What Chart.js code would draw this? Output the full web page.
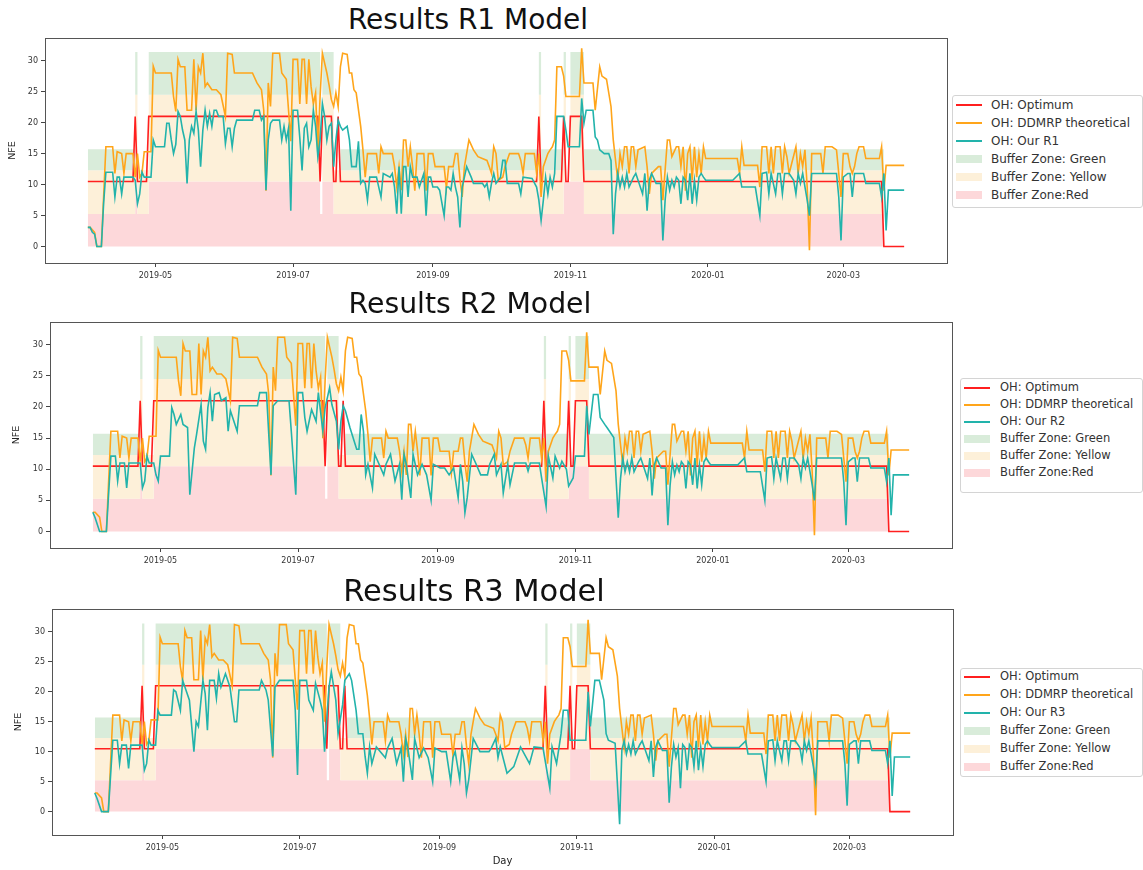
<!DOCTYPE html>
<html>
<head>
<meta charset="utf-8">
<script src="https://cdn.jsdelivr.net/npm/chart.js@4.4.1/dist/chart.umd.min.js"></script>
<style>
  body { margin: 0; background: #fff; width: 1143px; height: 870px; position: relative; overflow: hidden; font-family: "DejaVu Sans", sans-serif; }
  canvas { position: absolute; left: 0; }
  .title { position: absolute; white-space: nowrap; color: #111; transform: translateX(-50%); line-height: 1; }
  .legend { position: absolute; border: 1px solid #d4d4d4; border-radius: 3px; background: #fff; box-sizing: border-box; color: #333; }
  .sw { position: absolute; left: 3px; width: 26px; }
  .lbl { position: absolute; white-space: nowrap; line-height: 1; }
</style>
</head>
<body>
<script>
// days counted from 2019-04-01
const tickDays = [30, 91, 153, 214, 275, 335];
const tickLabels = ["2019-05", "2019-07", "2019-09", "2019-11", "2020-01", "2020-03"];
const yTicks = [0, 5, 10, 15, 20, 25, 30];

// buffer zones (value holds until the next day listed)
const zoneDays      = [0, 21, 22, 27, 103, 104, 109, 112, 200, 201, 211, 212, 214, 220, 353];
const zoneRedTop    = [5.25, 10.5, 5.25, 10.5, 5.25, 10.5, 5.25, 5.25, 10.5, 5.25, 10.5, 10.5, 10.5, 5.25, 5.25];
const zoneYellowTop = [12.3, 24.5, 12.3, 24.5, 5.25, 24.5, 12.3, 12.3, 24.5, 12.3, 24.5, 10.5, 24.5, 12.3, 12.3];
const zoneGreenTop  = [15.7, 31.4, 12.3, 31.4, 5.25, 31.4, 12.3, 15.7, 31.4, 15.7, 31.4, 10.5, 31.4, 15.7, 15.7];

const optimum = [[0,10.5],[20,10.5],[21,21],[22,10.5],[26,10.5],[27,21],[102,21],[103,10.5],[104,21],[108,21],[109,10.5],[110,10.5],[111,21],[112,10.5],[199,10.5],[200,21],[201,10.5],[210,10.5],[211,21],[212,10.5],[213,10.5],[214,21],[219,21],[220,10.5],[352,10.5],[353,0],[362,0]];

const ddmrp = [[0,3.1],[1,3.1],[3,2.3],[4,0],[6,0],[8,16.1],[11,16.1],[12,11.8],[13,15.3],[15,15],[16,11.8],[17,15],[20,15],[21,11.2],[22,15],[23,11.2],[24,11.8],[25,15.3],[28,15.3],[29,29.1],[30,28],[37,28],[38,24.2],[39,21.8],[40,30.2],[41,29],[43,29],[44,22],[46,22],[47,30.2],[48,22],[49,29],[50,28],[51,31.2],[52,25.8],[53,26.4],[55,25.3],[57,25.3],[59,24.5],[61,21],[62,31.2],[64,31],[65,28],[73,28],[75,26.4],[77,25.3],[78,22],[79,9],[80,26.4],[81,22.6],[82,31.2],[85,31.2],[86,28],[88,27],[90,17],[91,30.2],[93,30.2],[94,23],[95,30.2],[96,30.2],[97,23],[98,30.2],[99,25.8],[100,23],[101,24.8],[102,15],[103,24.2],[104,31.2],[106,28],[107,26],[108,23.7],[109,22.6],[110,24.8],[111,22.6],[112,29],[113,31.2],[115,31],[116,28],[117,28],[118,25.3],[119,24.8],[121,19.4],[122,15.6],[123,11.2],[124,15],[128,15],[129,11.8],[130,16.1],[131,15],[135,15],[136,12.9],[137,9.6],[138,12.9],[139,9.1],[140,17.2],[141,17.2],[142,12.9],[143,16.1],[144,12.9],[145,9],[146,15],[149,15],[150,9],[151,15],[153,15],[154,12.9],[158,12.9],[159,9.4],[160,12.9],[162,12.9],[163,15],[164,15],[165,11],[166,8],[167,12.9],[169,17.2],[171,15.6],[173,14.5],[177,13.9],[178,12.9],[179,11.8],[180,16.1],[181,15],[182,10.7],[184,11.2],[185,12.9],[187,15],[191,15],[192,13.9],[193,11.8],[194,15],[198,15],[199,11.8],[200,15],[201,8],[202,12.9],[204,15],[205,15.6],[206,16.1],[207,17.2],[208,29],[210,29],[211,27.5],[212,24.2],[218,24.2],[219,32],[220,26.4],[224,26.4],[225,22],[227,29],[228,27.5],[230,27],[232,22.6],[233,17.2],[235,10.7],[236,15],[237,12.9],[238,16.1],[239,16.1],[240,11.8],[241,16.1],[242,16.1],[243,12.9],[244,15.6],[247,16.1],[248,12.9],[249,8.5],[250,11.8],[253,12.9],[254,12.9],[255,7.5],[257,17.2],[258,17.2],[259,14.5],[261,16.1],[262,16.1],[263,12.9],[264,16.1],[265,9],[266,15],[267,16.1],[268,10.7],[269,16.1],[270,11.2],[271,15],[272,11.8],[273,16.1],[274,14.2],[288,14.2],[289,11.8],[290,16.1],[291,13.1],[297,13.1],[298,9.6],[299,16.1],[301,16.1],[302,11.8],[303,16.1],[304,11.8],[305,16.1],[307,16.1],[308,11.8],[309,16.1],[310,14.5],[311,11.8],[314,16.1],[315,11.8],[316,15],[317,12.9],[318,15.6],[319,9.6],[320,-0.6],[321,15],[325,15],[326,11.8],[327,16.1],[330,16.1],[332,15.6],[333,11.8],[334,8],[335,15],[337,15],[338,12.9],[339,11.8],[340,12.9],[341,15],[342,16.1],[344,16.1],[345,14.2],[351,14.2],[352,16.1],[353,9],[354,13.1],[362,13.1]];

const ourR1 = [[0,3.1],[1,3.1],[2,2.3],[3,2],[4,0],[6,0],[7,7],[8,12],[11,12],[12,8],[13,11.2],[14,11.2],[15,8.5],[16,11.2],[20,11.2],[21,10.7],[22,6.9],[23,8.5],[24,12],[25,11.2],[28,11.2],[29,17.2],[30,16.1],[34,16.1],[35,19.9],[36,19.9],[37,17.2],[38,15],[39,16.5],[40,21.8],[41,21],[42,18.8],[43,17.2],[44,10.2],[45,17.2],[46,19.4],[47,18.3],[48,21.8],[49,18.8],[50,12.9],[51,18.8],[52,22],[53,19.4],[54,21.5],[55,19.4],[56,22],[57,22],[58,21],[60,21],[61,16.6],[62,19.1],[63,19.1],[64,16.1],[65,19.1],[66,20.4],[73,20.4],[74,22],[76,22],[77,20.4],[78,21],[79,9.1],[80,17.2],[81,19.9],[82,20.4],[85,20.4],[86,17.2],[87,19.4],[88,17.2],[89,19.1],[90,5.8],[91,22],[93,22],[94,17.5],[95,12.3],[96,19.1],[97,19.9],[98,16.1],[99,17.2],[100,22],[101,19.4],[102,14.5],[103,17.2],[104,23.1],[105,21],[106,17.2],[107,19.4],[108,19.9],[109,12.9],[110,17.2],[111,20.4],[112,19.4],[113,18.8],[115,19.4],[116,17.2],[117,12.9],[119,12.9],[120,17],[121,10.2],[122,10.7],[123,10.2],[124,7.5],[125,11.2],[128,11.2],[129,9.6],[130,8],[131,11.8],[134,11.2],[135,11.8],[136,9.6],[137,5.3],[138,12.9],[139,5.3],[140,12.9],[141,12.9],[142,8],[143,12.9],[144,11.2],[146,11.2],[147,9.6],[149,11.8],[150,5],[151,11.2],[152,11.2],[153,9.6],[155,9.6],[156,9.1],[158,5],[159,9.6],[160,9.6],[161,9.1],[162,11.8],[163,9.6],[164,8],[165,3.1],[166,9.6],[167,11.2],[168,12.9],[170,11.2],[171,10.2],[175,10.2],[176,9.6],[177,10.2],[178,8],[179,10.2],[180,11.8],[181,10.2],[183,11.2],[184,13.9],[185,13.9],[186,10.2],[191,10.2],[192,8.5],[193,11.2],[197,11],[199,9.6],[200,7.5],[201,4.2],[202,7.5],[203,11.2],[204,8.5],[205,11.2],[206,9.6],[207,11.8],[208,21],[211,21],[212,18.8],[213,16.1],[218,16.1],[219,23.9],[220,19.9],[221,22],[224,22],[225,17.7],[226,17.2],[227,15.6],[229,15],[231,15],[232,13.9],[233,2],[234,8.5],[235,11.8],[236,9.6],[237,11.2],[238,9.6],[239,11.8],[240,9.6],[242,11.2],[243,11.8],[244,10.7],[246,8.5],[247,11.8],[248,5.8],[249,10.7],[250,11.8],[252,10.2],[254,10.2],[255,1],[256,7.5],[257,11.2],[258,9.1],[259,10.7],[260,9.6],[261,11.2],[262,10.7],[263,6.9],[264,11.2],[265,10.7],[266,7.5],[267,11.8],[268,6.9],[269,10.7],[270,7.5],[271,11.2],[272,11.8],[273,11.2],[274,10.7],[286,10.7],[289,11.8],[290,9.6],[296,9.6],[298,5],[299,11.8],[301,12],[302,8.5],[303,11.8],[305,8.5],[306,11.8],[307,11.8],[308,8.5],[309,11.8],[311,11.8],[313,10.7],[314,8.5],[315,11.8],[316,10.2],[317,11.8],[319,7.5],[320,5],[321,11.8],[328,11.8],[332,11.8],[333,8],[334,1],[335,11.2],[337,11.8],[338,11.8],[339,8],[340,11.8],[344,11.8],[345,10.2],[351,10.2],[352,8],[353,11.8],[354,2.6],[355,9.1],[362,9.1]];

const ourR2 = [[0,3.1],[1,2.2],[3,0],[6,0],[8,12.1],[10,12.1],[11,8.1],[12,11],[14,11],[15,7],[16,11],[21,11],[22,7],[23,8.1],[24,12.1],[25,11],[27,11],[28,9.1],[29,8.1],[30,12.1],[34,12.1],[35,19.9],[36,18.8],[37,17.2],[39,18.8],[40,17.2],[42,16.7],[43,5.9],[45,13.4],[46,15.6],[48,20.4],[49,14.5],[50,13.2],[51,19.9],[52,22.3],[53,17.7],[54,22],[56,22.3],[57,21],[59,21.5],[60,16.1],[61,19.4],[62,18.3],[64,16.1],[65,20.2],[73,20.2],[74,22.3],[77,22.3],[79,9.1],[80,20.2],[82,21],[87,21],[88,16.1],[90,5.9],[91,22.3],[93,22.3],[94,18.3],[95,16.1],[97,19.6],[99,17.7],[100,22.3],[102,16.1],[103,19.9],[105,23.1],[106,20.4],[108,17.7],[109,13.2],[110,17.7],[111,20.2],[112,19.4],[114,16.7],[117,13.2],[118,13.2],[119,18.8],[120,16.1],[121,9.1],[122,10.8],[124,7],[125,12.4],[129,9.1],[130,10.8],[132,12.4],[134,8.1],[136,10.8],[137,5.1],[138,12.4],[139,10.8],[141,5.4],[142,12.4],[144,9.1],[146,10.8],[148,9.1],[150,5],[151,10.8],[154,10.2],[156,10.2],[158,9.1],[160,10.2],[162,5.4],[163,10.8],[164,8.1],[165,3],[166,5.4],[168,12.4],[170,10.8],[172,9.1],[175,9.1],[176,10.8],[178,12.4],[179,9.1],[181,10.8],[182,6.2],[184,10.8],[185,7.5],[187,11],[192,11],[193,9.7],[194,11],[198,11],[199,8.6],[201,4],[202,12.1],[204,8.6],[205,12.1],[207,10.2],[208,11.3],[210,10],[211,7.3],[213,8.6],[214,12.1],[218,12.1],[219,20.2],[220,15.6],[222,22],[224,22],[225,18.3],[227,17.2],[228,16.7],[231,15.1],[233,2.2],[234,8.5],[235,11.8],[236,9.6],[237,11.2],[238,9.6],[239,11.8],[240,9.6],[242,11.2],[243,11.8],[244,10.7],[246,8.5],[247,11.8],[248,5.8],[249,10.7],[250,11.8],[252,10.2],[254,10.2],[255,1],[256,7.5],[257,11.2],[258,9.1],[259,10.7],[260,9.6],[261,11.2],[262,10.7],[263,6.9],[264,11.2],[265,10.7],[266,7.5],[267,11.8],[268,6.9],[269,10.7],[270,7.5],[271,11.2],[272,11.8],[273,11.2],[274,10.7],[286,10.7],[289,11.8],[290,9.6],[296,9.6],[298,5],[299,11.8],[301,12],[302,8.5],[303,11.8],[305,8.5],[306,11.8],[307,11.8],[308,8.5],[309,11.8],[311,11.8],[313,10.7],[314,8.5],[315,11.8],[316,10.2],[317,11.8],[319,7.5],[320,5],[321,11.8],[328,11.8],[332,11.8],[333,8],[334,1],[335,11.2],[337,11.8],[338,11.8],[339,8],[340,11.8],[344,11.8],[345,10.2],[351,10.2],[352,8],[353,11.8],[354,2.6],[355,9.1],[362,9.1]];

const ourR3 = [[0,3.1],[1,2.2],[3,0],[6,0],[8,11.9],[10,11.9],[11,8],[12,11.1],[14,11.1],[15,7.2],[16,11.1],[21,11.1],[22,6.9],[23,8],[24,11.9],[25,11.1],[27,11.1],[28,16.9],[29,16.1],[34,16.1],[35,20.3],[36,20],[38,16.9],[39,21.9],[40,20.8],[42,18.6],[44,10],[45,15],[46,14.2],[48,21.9],[49,19.7],[50,13.6],[51,21.9],[53,21.9],[54,18.9],[55,23],[56,20.8],[58,23],[59,21.9],[60,20.8],[62,15],[63,15],[64,20.3],[73,20.3],[74,21.9],[76,20.3],[77,18.6],[79,9.2],[80,20.8],[82,21.9],[88,21.9],[89,16.9],[90,6.1],[91,21.9],[94,21.9],[95,18.6],[97,16.9],[98,21.4],[100,18.6],[101,16.9],[102,10],[104,20.8],[105,23.3],[107,18.6],[108,13],[110,17.8],[111,21.9],[113,23],[114,21.9],[116,16.9],[117,13],[119,13],[120,9.2],[121,6.4],[122,10.8],[123,8],[125,10.8],[129,9],[130,10.6],[132,12.2],[134,8],[136,10.6],[137,5],[138,12.2],[139,10.6],[141,5.3],[142,12.2],[144,9],[146,10.6],[148,9],[150,5],[151,10.6],[154,10],[156,10],[158,5],[159,9],[160,10],[162,5.3],[163,10.6],[164,8],[165,3.1],[166,5.3],[168,12.2],[171,10],[175,10],[176,10.6],[178,12.2],[179,9],[180,10.8],[183,6.4],[186,7.5],[189,10.8],[193,8],[195,10.8],[199,10.6],[202,3.9],[203,10.8],[205,8],[207,13],[208,16.9],[210,16.9],[211,11.9],[218,11.9],[219,20],[220,14.2],[222,21.9],[224,21.9],[226,18.6],[227,13],[228,11.9],[231,11.4],[233,-2.1],[234,10.3],[235,11.8],[236,9.6],[237,11.2],[238,9.6],[239,11.8],[240,9.6],[242,11.2],[243,11.8],[244,10.7],[246,8.5],[247,11.8],[248,5.8],[249,10.7],[250,11.8],[252,10.2],[254,10.2],[255,1.5],[256,7.5],[257,11.2],[258,9.1],[259,10.7],[260,3.9],[261,11.2],[262,10.7],[263,6.9],[264,11.2],[265,10.7],[266,7.5],[267,11.8],[268,6.9],[269,10.7],[270,7.5],[271,11.2],[272,11.8],[273,11.2],[274,10.7],[286,10.7],[289,11.8],[290,9.6],[296,9.6],[298,5],[299,11.8],[301,12],[302,8.5],[303,11.8],[305,8.5],[306,11.8],[307,11.8],[308,8.5],[309,11.8],[311,11.8],[313,10.7],[314,8.5],[315,11.8],[316,10.2],[317,11.8],[319,7.5],[320,5],[321,11.8],[328,11.8],[332,11.8],[333,8],[334,1],[335,11.2],[337,11.8],[338,11.8],[339,8],[340,11.8],[344,11.8],[345,10.2],[351,10.2],[352,8],[353,11.8],[354,2.6],[355,9.1],[362,9.1]];

const COLORS = {
  opt: "#ff1f1f", ddmrp: "#ffa51a", our: "#22b3ab",
  green: "#d9ecda", yellow: "#fdf0d9", red: "#fdd8da"
};

const panels = [
  { name: "R1", our: ourR1, top: 30, height: 260, padTop: 8, padRight: 13, yWidth: 45, xHeight: 27, yMin: -2.65, yMax: 33.65, nfePad: 7,
    titleX: 468, titleTop: 6, titleSize: 28, xTitle: false,
    legend: { left: 952, top: 95, width: 191, height: 113, rowStart: 10, rowGap: 18, font: 12, textLeft: 38 } },
  { name: "R2", our: ourR2, top: 312, height: 262, padTop: 10, padRight: 8, yWidth: 50, xHeight: 26, yMin: -2.65, yMax: 33.65, nfePad: 11,
    titleX: 470, titleTop: 290, titleSize: 28.3, xTitle: false,
    legend: { left: 960, top: 378, width: 183, height: 115, rowStart: 10, rowGap: 17, font: 11.5, textLeft: 39 } },
  { name: "R3", our: ourR3, top: 598, height: 272, padTop: 11, padRight: 7, yWidth: 52, xHeight: 35, yMin: -3.9, yMax: 33.8, nfePad: 13,
    titleX: 474, titleTop: 576, titleSize: 30.5, xTitle: true,
    legend: { left: 960, top: 668, width: 183, height: 109, rowStart: 9, rowGap: 18, font: 11.5, textLeft: 39 } }
];

const pts = arr => arr.map(p => ({ x: p[0], y: p[1] }));
const zonePts = tops => zoneDays.map((d, i) => ({ x: d, y: tops[i] }));

// matplotlib-like frame round the plot area
const framePlugin = {
  id: "frame",
  afterDraw(chart) {
    const a = chart.chartArea, c = chart.ctx;
    c.save();
    c.strokeStyle = "#555";
    c.lineWidth = 1;
    c.strokeRect(Math.round(a.left) + 0.5, Math.round(a.top) + 0.5, Math.round(a.right - a.left), Math.round(a.bottom - a.top));
    c.restore();
  }
};

function addLegend(P) {
  const L = P.legend;
  const box = document.createElement("div");
  box.className = "legend";
  Object.assign(box.style, { left: L.left + "px", top: L.top + "px", width: L.width + "px", height: L.height + "px" });
  const items = [
    ["line", COLORS.opt, "OH: Optimum"],
    ["line", COLORS.ddmrp, "OH: DDMRP theoretical"],
    ["line", COLORS.our, "OH: Our " + P.name],
    ["patch", COLORS.green, "Buffer Zone: Green"],
    ["patch", COLORS.yellow, "Buffer Zone: Yellow"],
    ["patch", COLORS.red, "Buffer Zone:Red"]
  ];
  items.forEach((it, i) => {
    const cy = L.rowStart + i * L.rowGap - 1;
    const sw = document.createElement("div");
    sw.className = "sw";
    const h = it[0] === "line" ? 2 : 8;
    Object.assign(sw.style, { top: (cy - h / 2) + "px", height: h + "px", background: it[1] });
    box.appendChild(sw);
    const t = document.createElement("div");
    t.className = "lbl";
    t.textContent = it[2];
    Object.assign(t.style, { left: L.textLeft + "px", top: (cy - L.font / 2) + "px", fontSize: L.font + "px" });
    box.appendChild(t);
  });
  document.body.appendChild(box);
}

panels.forEach(P => {
  const title = document.createElement("div");
  title.className = "title";
  title.textContent = "Results " + P.name + " Model";
  Object.assign(title.style, { left: P.titleX + "px", top: P.titleTop + "px", fontSize: P.titleSize + "px" });
  document.body.appendChild(title);

  const cv = document.createElement("canvas");
  cv.width = 960; cv.height = P.height;
  cv.style.top = P.top + "px";
  document.body.appendChild(cv);

  addLegend(P);

  new Chart(cv.getContext("2d"), {
    type: "line",
    data: {
      datasets: [
        { label: "Buffer Zone:Red", data: zonePts(zoneRedTop), stepped: true, fill: { value: 0 }, backgroundColor: COLORS.red, borderColor: "transparent", borderWidth: 0, order: 5 },
        { label: "Buffer Zone: Yellow", data: zonePts(zoneYellowTop), stepped: true, fill: "-1", backgroundColor: COLORS.yellow, borderColor: "transparent", borderWidth: 0, order: 4 },
        { label: "Buffer Zone: Green", data: zonePts(zoneGreenTop), stepped: true, fill: "-1", backgroundColor: COLORS.green, borderColor: "transparent", borderWidth: 0, order: 3 },
        { label: "OH: Optimum", data: pts(optimum), borderColor: COLORS.opt, borderWidth: 1.6, fill: false, order: 2 },
        { label: "OH: DDMRP theoretical", data: pts(ddmrp), borderColor: COLORS.ddmrp, borderWidth: 1.6, fill: false, order: 1 },
        { label: "OH: Our " + P.name, data: pts(P.our), borderColor: COLORS.our, borderWidth: 1.6, fill: false, order: 0 }
      ]
    },
    options: {
      responsive: false,
      animation: false,
      events: [],
      layout: { padding: { top: P.padTop, right: P.padRight, left: 0, bottom: 0 } },
      elements: { point: { radius: 0 }, line: { tension: 0 } },
      plugins: { legend: { display: false }, tooltip: { enabled: false } },
      scales: {
        x: {
          type: "linear", min: -19, max: 381,
          afterBuildTicks: s => { s.ticks = tickDays.map(v => ({ value: v })); },
          afterFit: s => { s.height = P.xHeight; },
          ticks: { callback: v => tickLabels[tickDays.indexOf(v)], font: { family: "DejaVu Sans", size: 8 }, color: "#333", maxRotation: 0, autoSkip: false, padding: 4 },
          grid: { drawOnChartArea: false, tickLength: 4, color: "#444" },
          border: { display: false },
          title: { display: P.xTitle, text: "Day", font: { family: "DejaVu Sans", size: 10 }, color: "#222", padding: { top: 0, bottom: 3 } }
        },
        y: {
          min: P.yMin, max: P.yMax,
          afterBuildTicks: s => { s.ticks = yTicks.map(v => ({ value: v })); },
          afterFit: s => { s.width = P.yWidth; },
          ticks: { font: { family: "DejaVu Sans", size: 8 }, color: "#333", padding: 3 },
          grid: { drawOnChartArea: false, tickLength: 4, color: "#444" },
          border: { display: false },
          title: { display: true, text: "NFE", font: { family: "DejaVu Sans", size: 9.5 }, color: "#222", padding: { top: P.nfePad, bottom: 0 } }
        }
      }
    },
    plugins: [framePlugin]
  });
});
</script>
</body>
</html>
